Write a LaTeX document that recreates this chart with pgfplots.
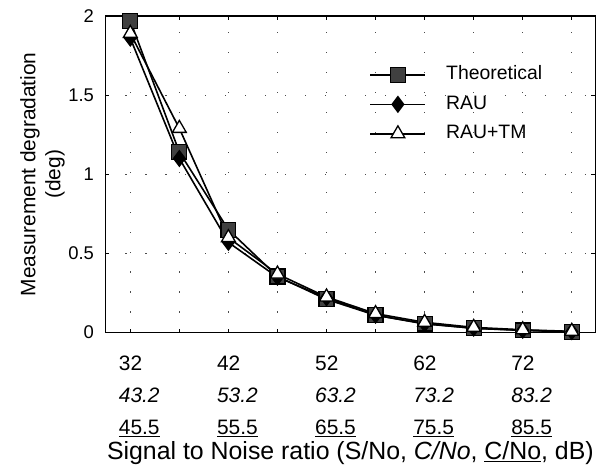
\documentclass[border=0pt]{standalone}
\usepackage{pgfplots}
\pgfplotsset{compat=1.18}
\usepackage{fontspec}
\setmainfont{Liberation Sans}

% degradation (deg) vs. S/No
\pgfplotstableread{
x   theo   rau    tm
32  1.97   1.86   1.89
37  1.14   1.10   1.29
42  0.65   0.57   0.60
47  0.355  0.35   0.37
52  0.21   0.22   0.225
57  0.11   0.11   0.12
62  0.057  0.055  0.065
67  0.027  0.028  0.033
72  0.014  0.015  0.018
77  0.005  0.006  0.008
}\degtable

\begin{document}
\begin{tikzpicture}
\begin{axis}[
    scale only axis,
    width=490.5bp, height=317bp,
    xmin=29.46, xmax=79.4,
    ymin=0, ymax=2,
    axis line style={line width=1.6bp},
    xtick={32,42,52,62,72},
    minor xtick={37,47,57,67,77},
    xticklabels={
        {32\\\textit{43.2}\\\underline{45.5}},
        {42\\\textit{53.2}\\\underline{55.5}},
        {52\\\textit{63.2}\\\underline{65.5}},
        {62\\\textit{73.2}\\\underline{75.5}},
        {72\\\textit{83.2}\\\underline{85.5}}},
    xticklabel style={align=left, font=\fontsize{21}{32}\selectfont,
        yshift=-20bp, xshift=9bp},
    ytick={0,0.5,1,1.5,2},
    yticklabel style={font=\fontsize{18.5}{22}\selectfont, xshift=-8bp},
    /pgf/number format/assume math mode=true,
    tick style={black, line width=0.8bp},
    major tick length=4bp, minor tick length=4bp,
    tick align=inside,
    grid=both,
    major grid style={black!70, line width=1bp, dash pattern=on 1.2bp off 18.8bp},
    minor grid style={black!70, line width=1bp, dash pattern=on 1.2bp off 18.8bp},
    xlabel={Signal to Noise ratio (S/No, \textit{C/No}, \underline{C/No}, dB)},
    xlabel style={font=\fontsize{25}{29}\selectfont,
        at={(rel axis cs:0.5,0)}, anchor=center, yshift=-121bp},
    ylabel={Measurement degradation\\(deg)},
    ylabel style={font=\fontsize{21}{25}\selectfont, align=center,
        at={(rel axis cs:-0.1284,0.5)}, anchor=center},
    legend style={draw=none, fill=none, at={(rel axis cs:0.539,0.843)},
        anchor=north west, font=\fontsize{19.5}{22}\selectfont,
        inner sep=0pt, row sep=11.5bp,
        nodes={inner sep=0pt, text height=14bp, text depth=4bp},
        /tikz/every odd column/.append style={column sep=20bp}},
    legend cell align=left,
    legend image code/.code={
        \draw[mark repeat=2, mark phase=2, #1]
            plot coordinates {(0bp,0bp) (27.5bp,0bp) (55bp,0bp)};},
    every axis plot/.append style={black, line width=1.6bp},
]
\addplot[mark=square*, mark size=7.5bp,
    mark options={fill=black!75, draw=black, line width=1.2bp}]
    table[x=x, y=theo] {\degtable};
\addlegendentry{Theoretical}
\addplot[mark=diamond*, mark size=7.5bp,
    mark options={fill=black, draw=black}]
    table[x=x, y=rau] {\degtable};
\addlegendentry{RAU}
\addplot[mark=triangle*, mark size=8bp,
    mark options={fill=white, draw=black, line width=1.3bp}]
    table[x=x, y=tm] {\degtable};
\addlegendentry{RAU+TM}
\end{axis}
\path (-105.5bp,-143bp) rectangle (491.5bp,333bp);
\end{tikzpicture}
\end{document}
